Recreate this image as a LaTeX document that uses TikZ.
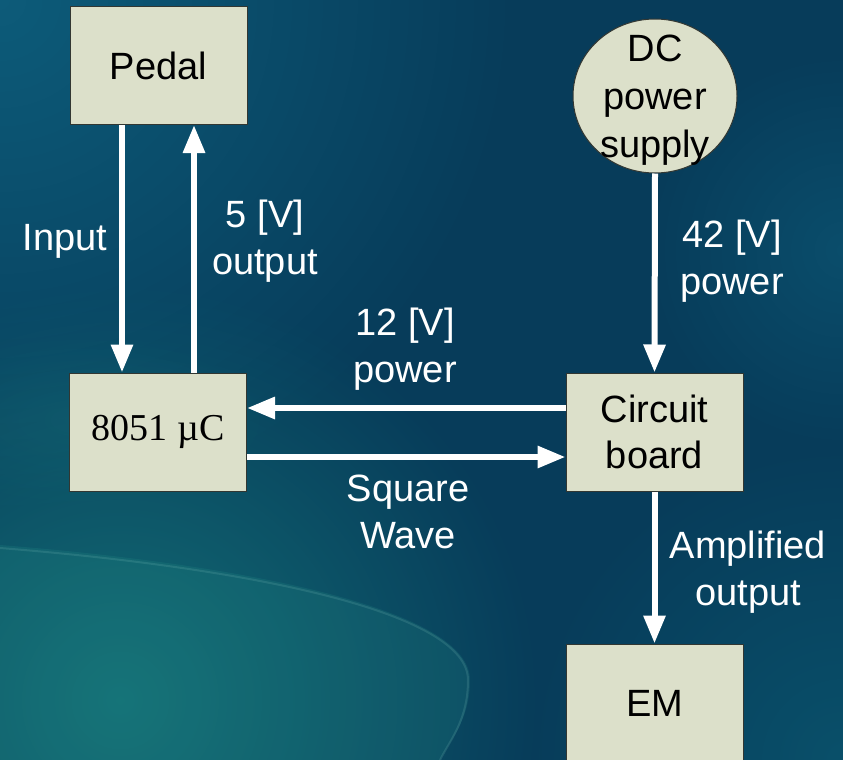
\documentclass[tikz,border=0pt]{standalone}
\usepackage{fontspec}
\setmainfont{Liberation Sans}
\newfontfamily\tnr{Liberation Serif}
\usetikzlibrary{arrows.meta,shapes.geometric,fadings}
\definecolor{boxfill}{RGB}{220,224,202}
\definecolor{boxline}{RGB}{50,55,50}
\definecolor{bgmid}{RGB}{7,60,90}
\definecolor{bgtl}{RGB}{14,95,125}
\definecolor{bgbl}{RGB}{20,115,120}
\definecolor{bgbr}{RGB}{10,85,110}
\definecolor{swoosh}{RGB}{40,150,140}
\tikzfading[name=softc, inner color=transparent!0, outer color=transparent!100]
\tikzset{
  blk/.style={draw=boxline, line width=1pt, fill=boxfill, minimum width=177pt, minimum height=118pt, inner sep=0pt, font=\fontsize{38}{46}\selectfont, align=center, text=black},
  lbl/.style={text=white, font=\fontsize{38}{47}\selectfont, align=center, inner sep=0pt},
  arr/.style={draw=white, line width=6pt, -{Triangle[width=21pt,length=28pt]}}
}
\begin{document}
\begin{tikzpicture}[x=1pt,y=-1pt]
\useasboundingbox (0,0) rectangle (843,760);
\begin{scope}
\clip (0,0) rectangle (843,760);
% background
\fill[bgmid] (0,0) rectangle (843,760);
\fill[bgtl, path fading=softc, opacity=0.9] (0,0) circle (520);
\fill[bgbl, path fading=softc, opacity=0.9] (120,700) circle (420);
\fill[bgbr, path fading=softc, opacity=0.8] (843,760) circle (320);
\fill[bgtl, path fading=softc, opacity=0.5] (843,250) circle (200);
\fill[swoosh, opacity=0.18] (0,545) .. controls (250,565) and (470,610) .. (470,680) .. controls (470,720) and (450,740) .. (440,760) -- (0,760) -- cycle;
\draw[swoosh!60!white, opacity=0.18, line width=2pt] (0,548) .. controls (250,568) and (468,612) .. (468,680) .. controls (468,720) and (450,740) .. (440,760);
\fill[swoosh, opacity=0.12, path fading=softc] (80,420) ellipse (200 and 90);

% nodes
\node[blk] (pedal) at (158.5,65.5) {Pedal};
\node[blk, font=\tnr\fontsize{38}{46}\selectfont] (mcu) at (158,432) {8051 \textmu C};
\node[blk] (circ) at (654.5,432) {Circuit\\board};
\node[blk] (em) at (654.5,703) {EM};
\node[draw=boxline, line width=1pt, fill=boxfill, ellipse, minimum width=164pt, minimum height=154pt, inner sep=0pt] (dc) at (655,96) {};
\node[font=\fontsize{38}{48}\selectfont, align=center, inner sep=0pt] (dct) at (655,100) {DC\\power\\supply};

% connectors
\draw[arr] ([xshift=-36.5pt]pedal.south) -- ([xshift=-36pt]mcu.north);
\draw[arr] ([xshift=36pt]mcu.north) -- ([xshift=35.5pt]pedal.south);
\draw[arr] (dc.south) -- (circ.north);
\draw[arr] ([yshift=24pt]circ.west) -- ([yshift=24pt]mcu.east);
\draw[arr] ([yshift=-25pt]mcu.east) -- ([yshift=-25pt]circ.west);
\draw[arr] (circ.south) -- (em.north);

% labels
\node[lbl] (lin) at (65,241) {Input};
\node[lbl] (l5v) at (265,241) {5 [V]\\output};
\node[lbl] (l42) at (732,261) {42 [V]\\power};
\node[lbl] (l12) at (405,349) {12 [V]\\power};
\node[lbl] (lsq) at (408,512) {Square\\Wave};
\node[lbl] (lamp) at (748,572) {Amplified\\output};
\end{scope}
\end{tikzpicture}
\end{document}
